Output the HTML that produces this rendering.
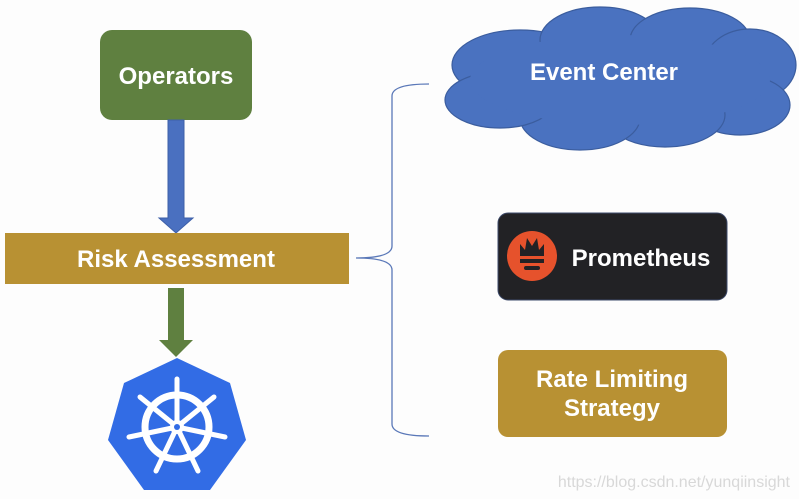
<!DOCTYPE html>
<html><head><style>
body{margin:0;background:#fdfdfd;}
svg{display:block}
text{font-family:"Liberation Sans",Arial,sans-serif;font-weight:bold;fill:#fff}
</style></head><body>
<svg width="799" height="499" viewBox="0 0 799 499">
<rect width="799" height="499" fill="#fdfdfd"/>
<rect x="100" y="30" width="152" height="90" rx="12" fill="#5f8040"/>
<text x="176" y="84" font-size="24" text-anchor="middle">Operators</text>
<polygon points="168,120 184,120 184,218 193,218 176,233 159,218 168,218" fill="#4a70c0" stroke="#3d5fa8" stroke-width="1"/>
<rect x="5" y="233" width="344" height="51" fill="#b89133"/>
<text x="176" y="267" font-size="24" text-anchor="middle">Risk Assessment</text>
<polygon points="168,288 184,288 184,340 193,340 176,357 159,340 168,340" fill="#5f8040"/>
<polygon points="177,358 230,383 246,440 210,490 144,490 108,440 124,383" fill="#326ce5"/>
<g stroke="#fff" fill="none" stroke-linecap="round">
<circle cx="177" cy="427" r="32" stroke-width="7"/>
<g stroke-width="5">
<line x1="177" y1="427" x2="177" y2="379"/>
<line x1="177" y1="427" x2="214" y2="397"/>
<line x1="177" y1="427" x2="225" y2="437"/>
<line x1="177" y1="427" x2="198" y2="471"/>
<line x1="177" y1="427" x2="156" y2="471"/>
<line x1="177" y1="427" x2="129" y2="437"/>
<line x1="177" y1="427" x2="140" y2="397"/>
</g>
</g>
<circle cx="177" cy="427" r="7" fill="#fff"/>
<circle cx="177" cy="427" r="3" fill="#326ce5"/>
<path d="M429,84 Q392,84 392,96 L392,246 Q392,258 356,258 Q392,258 392,270 L392,424 Q392,436 429,436" fill="none" stroke="#5a78b8" stroke-width="1.3"/>
<g fill="#4a72c0" stroke="#3b5d9e" stroke-width="1.2">
<ellipse cx="520" cy="65" rx="68" ry="35"/>
<ellipse cx="600" cy="40" rx="60" ry="33"/>
<ellipse cx="690" cy="40" rx="60" ry="32"/>
<ellipse cx="750" cy="65" rx="46" ry="36"/>
<ellipse cx="740" cy="105" rx="50" ry="30"/>
<ellipse cx="665" cy="115" rx="60" ry="32"/>
<ellipse cx="580" cy="118" rx="60" ry="32"/>
<ellipse cx="500" cy="100" rx="55" ry="28"/>
</g>
<ellipse cx="620" cy="80" rx="150" ry="45" fill="#4a72c0"/>
<text x="604" y="80" font-size="24" text-anchor="middle">Event Center</text>
<rect x="498" y="213" width="229" height="87" rx="10" fill="#222225" stroke="#3d4a6a" stroke-width="1"/>
<circle cx="532" cy="256" r="25" fill="#e6522c"/>
<path d="M520,256 L520,244 L525,250 L527,238 L532,246 L537,238 L539,250 L544,244 L544,256 Z" fill="#222225"/>
<rect x="520" y="259" width="24" height="4" fill="#222225"/>
<rect x="524" y="266" width="16" height="4" rx="2" fill="#222225"/>
<text x="641" y="266" font-size="24" text-anchor="middle">Prometheus</text>
<rect x="498" y="350" width="229" height="87" rx="10" fill="#b89133"/>
<text x="612" y="387" font-size="24" text-anchor="middle">Rate Limiting</text>
<text x="612" y="416" font-size="24" text-anchor="middle">Strategy</text>
<text x="790" y="487" font-size="16" text-anchor="end" style="font-weight:normal;fill:#d8d8d8">https://blog.csdn.net/yunqiinsight</text>
</svg>
</body></html>
